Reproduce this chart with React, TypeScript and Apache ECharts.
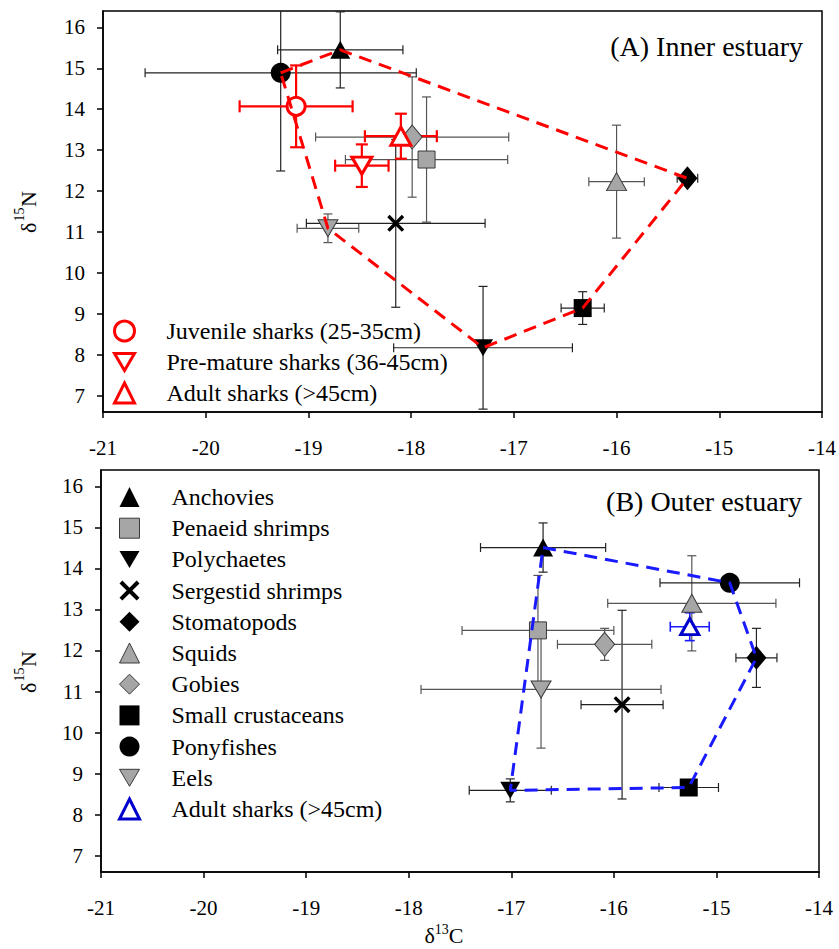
import React, { useEffect, useRef } from "react";
import * as echarts from "echarts";

const FONT = "'Liberation Serif', 'Times New Roman', serif";

// ---------- data ----------
const preyNames = [
  "Anchovies",
  "Penaeid shrimps",
  "Polychaetes",
  "Sergestid shrimps",
  "Stomatopods",
  "Squids",
  "Gobies",
  "Small crustaceans",
  "Ponyfishes",
  "Eels",
];

// Panel A – inner estuary (prey)
const innerPreyX = [-18.69, -17.85, -17.3, -18.15, -15.31, -16.0, -17.99, -16.33, -19.27, -18.81];
const innerPreyY = [15.45, 12.77, 8.17, 11.21, 12.31, 12.23, 13.32, 9.14, 14.89, 11.09];
const innerPreyXErr = [0.61, 0.79, 0.87, 0.87, 0.1, 0.27, 0.94, 0.21, 1.32, 0.3];
const innerPreyYErr = [0.93, 1.53, 1.5, 2.05, 0.05, 1.38, 1.47, 0.4, 2.4, 0.35];

// Panel A – sharks
const innerSharkNames = ["Juvenile sharks (25-35cm)", "Pre-mature sharks (36-45cm)", "Adult sharks (>45cm)"];
const innerSharkX = [-19.12, -18.48, -18.1];
const innerSharkY = [14.07, 12.62, 13.34];
const innerSharkXErr = [0.55, 0.26, 0.35];
const innerSharkYErr = [1.0, 0.52, 0.55];

// Panel B – outer estuary (prey)
const outerPreyX = [-16.69, -16.74, -17.01, -15.92, -14.61, -15.24, -16.09, -15.27, -14.87, -16.71];
const outerPreyY = [14.51, 12.49, 8.59, 10.68, 11.82, 13.15, 12.15, 8.66, 13.65, 11.05];
const outerPreyXErr = [0.61, 0.74, 0.4, 0.4, 0.2, 0.82, 0.46, 0.29, 0.68, 1.17];
const outerPreyYErr = [0.6, 1.34, 0.28, 2.3, 0.72, 1.16, 0.39, 0.08, 0.1, 1.43];

// Panel B – sharks
const outerSharkNames = ["Adult sharks (>45cm)"];
const outerSharkX = [-15.26];
const outerSharkY = [12.58];
const outerSharkXErr = [0.19];
const outerSharkYErr = [0.34];

// convex hull vertex order (by species)
const innerHull = ["Ponyfishes", "Anchovies", "Stomatopods", "Small crustaceans", "Polychaetes", "Eels", "Ponyfishes"];
const outerHull = ["Anchovies", "Ponyfishes", "Stomatopods", "Small crustaceans", "Polychaetes", "Anchovies"];

const xTicks = [-21, -20, -19, -18, -17, -16, -15, -14];
const yTicks = [7, 8, 9, 10, 11, 12, 13, 14, 15, 16];

// ---------- styles ----------
const INV_TRI = "path://M0,0L20,0L10,17Z";
const X_MARK = "path://M0,2L2,0L7,5L12,0L14,2L9,7L14,12L12,14L7,9L2,14L0,12L5,7Z";
const BLACK = "#000000";
const GRAY = "#a6a6a6";
const GRAY_EDGE = "#3a3a3a";
const RED = "#ff0000";
const BLUE = "#0000cc";
const BLUE_LINE = "#1a1aff";

type MStyle = { symbol: string; size: number | number[]; fill: string; edge?: string; bar: string };
const preyStyle: Record<string, MStyle> = {
  Anchovies: { symbol: "triangle", size: [20, 18], fill: BLACK, bar: "#222" },
  "Penaeid shrimps": { symbol: "rect", size: 17, fill: GRAY, edge: GRAY_EDGE, bar: "#555" },
  Polychaetes: { symbol: INV_TRI, size: [20, 17], fill: BLACK, bar: "#222" },
  "Sergestid shrimps": { symbol: X_MARK, size: 17, fill: BLACK, bar: "#222" },
  Stomatopods: { symbol: "diamond", size: [20, 24], fill: BLACK, bar: "#222" },
  Squids: { symbol: "triangle", size: [20, 18], fill: GRAY, edge: GRAY_EDGE, bar: "#555" },
  Gobies: { symbol: "diamond", size: [20, 24], fill: GRAY, edge: GRAY_EDGE, bar: "#555" },
  "Small crustaceans": { symbol: "rect", size: 18, fill: BLACK, bar: "#222" },
  Ponyfishes: { symbol: "circle", size: 20, fill: BLACK, bar: "#222" },
  Eels: { symbol: INV_TRI, size: [20, 17], fill: GRAY, edge: GRAY_EDGE, bar: "#555" },
};
const sharkSymbols = ["circle", INV_TRI, "triangle"];
const sharkSizes: (number | number[])[] = [18, [20, 17], [20, 18]];

function errorSeries(
  gridIdx: number,
  xs: number[],
  ys: number[],
  xe: number[],
  ye: number[],
  colors: string[],
  lw: number,
  cap: number,
  z: number
) {
  return {
    type: "custom",
    xAxisIndex: gridIdx,
    yAxisIndex: gridIdx,
    clip: true,
    silent: true,
    z,
    encode: { x: 0, y: 1 },
    data: xs.map((x, i) => [x, ys[i], xe[i], ye[i]]),
    renderItem: (params: any, api: any) => {
      const x = api.value(0);
      const y = api.value(1);
      const ex = api.value(2);
      const ey = api.value(3);
      const L = api.coord([x - ex, y]);
      const R = api.coord([x + ex, y]);
      const T = api.coord([x, y + ey]);
      const B = api.coord([x, y - ey]);
      const stroke = colors[params.dataIndex];
      const shapes = [
        { x1: L[0], y1: L[1], x2: R[0], y2: R[1] },
        { x1: T[0], y1: T[1], x2: B[0], y2: B[1] },
        { x1: L[0], y1: L[1] - cap, x2: L[0], y2: L[1] + cap },
        { x1: R[0], y1: R[1] - cap, x2: R[0], y2: R[1] + cap },
        { x1: T[0] - cap, y1: T[1], x2: T[0] + cap, y2: T[1] },
        { x1: B[0] - cap, y1: B[1], x2: B[0] + cap, y2: B[1] },
      ];
      return {
        type: "group",
        children: shapes.map((shape) => ({
          type: "line",
          shape,
          style: { stroke, lineWidth: lw },
        })),
      };
    },
  };
}

function preyScatter(gridIdx: number, xs: number[], ys: number[]) {
  return preyNames.map((name, i) => {
    const s = preyStyle[name];
    return {
      type: "scatter",
      name,
      xAxisIndex: gridIdx,
      yAxisIndex: gridIdx,
      symbol: s.symbol,
      symbolSize: s.size,
      z: 3,
      itemStyle: {
        color: s.fill,
        borderColor: s.edge || s.fill,
        borderWidth: s.edge ? 1 : 0,
        opacity: 1,
      },
      data: [[xs[i], ys[i]]],
    };
  });
}

function hullSeries(gridIdx: number, order: string[], xs: number[], ys: number[], color: string) {
  return {
    type: "line",
    xAxisIndex: gridIdx,
    yAxisIndex: gridIdx,
    symbol: "none",
    silent: true,
    z: 5,
    lineStyle: { color, width: 3, type: [13, 8] },
    data: order.map((n) => {
      const i = preyNames.indexOf(n);
      return [xs[i], ys[i]];
    }),
  };
}

const tickText = { fontSize: 21, fontFamily: FONT, color: "#000" };

const nameRich = {
  m: { fontFamily: FONT, fontSize: 22, color: "#000", lineHeight: 26, verticalAlign: "middle" },
  s: { fontFamily: FONT, fontSize: 14, color: "#000", lineHeight: 26, verticalAlign: "top" },
};

function makeXAxis(i: number) {
  return {
    type: "value",
    gridIndex: i,
    min: -21,
    max: -14,
    interval: 1,
    axisLine: { onZero: false, lineStyle: { color: "#000", width: 1.5 } },
    axisTick: { inside: false, length: 6, lineStyle: { color: "#000", width: 1.5 }, customValues: xTicks },
    axisLabel: { ...tickText, margin: 25, customValues: xTicks },
    splitLine: { show: false },
    name: i === 1 ? "{m|δ}{s|13}{m|C}" : "",
    nameLocation: "middle",
    nameGap: 50,
    nameTextStyle: {
      fontFamily: FONT,
      fontSize: 22,
      color: "#000",
      padding: [0, 32, 0, 0],
      rich: nameRich,
    },
  };
}

function makeYAxis(i: number) {
  return {
    type: "value",
    gridIndex: i,
    min: 6.6,
    max: 16.4,
    axisLine: { onZero: false, lineStyle: { color: "#000", width: 1.5 } },
    axisTick: { inside: false, length: 6, lineStyle: { color: "#000", width: 1.5 }, customValues: yTicks },
    axisLabel: { ...tickText, margin: 18, customValues: yTicks },
    splitLine: { show: false },
  };
}

const legendText = { fontSize: 24, fontFamily: FONT, color: "#000", lineHeight: 24, padding: [0, 0, 0, 27] };

export default function App() {
  const ref = useRef<HTMLDivElement>(null);

  useEffect(() => {
    if (!ref.current) return;
    const chart = echarts.init(ref.current, undefined, { renderer: "svg" });

    const innerSharkSeries = innerSharkNames.map((name, i) => ({
      type: "scatter",
      name,
      xAxisIndex: 0,
      yAxisIndex: 0,
      symbol: sharkSymbols[i],
      symbolSize: sharkSizes[i],
      z: 4,
      itemStyle: { color: "#ffffff", borderColor: RED, borderWidth: 3, opacity: 1 },
      data: [[innerSharkX[i], innerSharkY[i]]],
    }));

    const outerSharkSeries = outerSharkNames.map((name, i) => ({
      type: "scatter",
      name,
      xAxisIndex: 1,
      yAxisIndex: 1,
      symbol: "triangle",
      symbolSize: [18, 16],
      z: 4,
      itemStyle: { color: "#ffffff", borderColor: BLUE, borderWidth: 3, opacity: 1 },
      data: [[outerSharkX[i], outerSharkY[i]]],
    }));

    const preyBarColors = preyNames.map((n) => preyStyle[n].bar);

    // rotated y-axis title: a group rotated 90° CCW; local +x reads upward on screen
    const yName = (bottomY: number) => ({
      type: "group",
      x: 28.5,
      y: bottomY,
      rotation: Math.PI / 2,
      silent: true,
      children: [
        { type: "text", x: 0, y: 0, style: { text: "δ", font: `22px ${FONT}`, fill: "#000", align: "left", verticalAlign: "middle" } },
        { type: "text", x: 11.5, y: -9, style: { text: "15", font: `14px ${FONT}`, fill: "#000", align: "left", verticalAlign: "middle" } },
        { type: "text", x: 26, y: 0, style: { text: "N", font: `22px ${FONT}`, fill: "#000", align: "left", verticalAlign: "middle" } },
      ],
    });

    const option: any = {
      animation: false,
      backgroundColor: "#ffffff",
      title: [
        {
          text: "(A) Inner estuary",
          right: 36,
          top: 32,
          padding: 0,
          textStyle: { fontSize: 28, fontWeight: "normal", fontFamily: FONT, color: "#000" },
        },
        {
          text: "(B) Outer estuary",
          right: 37,
          top: 487,
          padding: 0,
          textStyle: { fontSize: 28, fontWeight: "normal", fontFamily: FONT, color: "#000" },
        },
      ],
      graphic: { elements: [yName(233), yName(693)] },
      grid: [
        { left: 103, top: 11, width: 719, height: 401, show: true, borderColor: "#000", borderWidth: 1.5, backgroundColor: "transparent" },
        { left: 101, top: 470, width: 718, height: 402, show: true, borderColor: "#000", borderWidth: 1.5, backgroundColor: "transparent" },
      ],
      legend: [
        {
          orient: "vertical",
          left: 113,
          top: 319,
          padding: 0,
          itemWidth: 20,
          itemHeight: 20,
          itemGap: 7,
          selectedMode: false,
          textStyle: legendText,
          data: innerSharkNames.map((n, i) => ({
            name: n,
            icon: sharkSymbols[i],
            itemStyle: { color: "#ffffff", borderColor: RED, borderWidth: 3 },
          })),
        },
        {
          orient: "vertical",
          left: 118,
          top: 485,
          padding: 0,
          itemWidth: 20,
          itemHeight: 20,
          itemGap: 7.2,
          selectedMode: false,
          textStyle: legendText,
          data: [
            ...preyNames.map((n) => ({
              name: n,
              icon: preyStyle[n].symbol,
              itemStyle: {
                color: preyStyle[n].fill,
                borderColor: preyStyle[n].edge || preyStyle[n].fill,
                borderWidth: preyStyle[n].edge ? 1 : 0,
              },
            })),
            ...outerSharkNames.map((n) => ({
              name: n,
              icon: "triangle",
              itemStyle: { color: "#ffffff", borderColor: BLUE, borderWidth: 3 },
            })),
          ],
        },
      ],
      xAxis: [makeXAxis(0), makeXAxis(1)],
      yAxis: [makeYAxis(0), makeYAxis(1)],
      series: [
        errorSeries(0, innerPreyX, innerPreyY, innerPreyXErr, innerPreyYErr, preyBarColors, 1.2, 4.5, 1),
        errorSeries(0, innerSharkX, innerSharkY, innerSharkXErr, innerSharkYErr, innerSharkNames.map(() => RED), 2.2, 6, 2),
        ...preyScatter(0, innerPreyX, innerPreyY),
        ...innerSharkSeries,
        hullSeries(0, innerHull, innerPreyX, innerPreyY, RED),
        errorSeries(1, outerPreyX, outerPreyY, outerPreyXErr, outerPreyYErr, preyBarColors, 1.2, 4.5, 1),
        errorSeries(1, outerSharkX, outerSharkY, outerSharkXErr, outerSharkYErr, outerSharkNames.map(() => BLUE_LINE), 1.6, 5, 2),
        ...preyScatter(1, outerPreyX, outerPreyY),
        ...outerSharkSeries,
        hullSeries(1, outerHull, outerPreyX, outerPreyY, BLUE_LINE),
      ],
    };

    chart.setOption(option);
    return () => chart.dispose();
  }, []);

  return (
    <div
      ref={ref}
      style={{ position: "absolute", left: 0, top: 0, width: 839, height: 949, background: "#fff" }}
    />
  );
}
